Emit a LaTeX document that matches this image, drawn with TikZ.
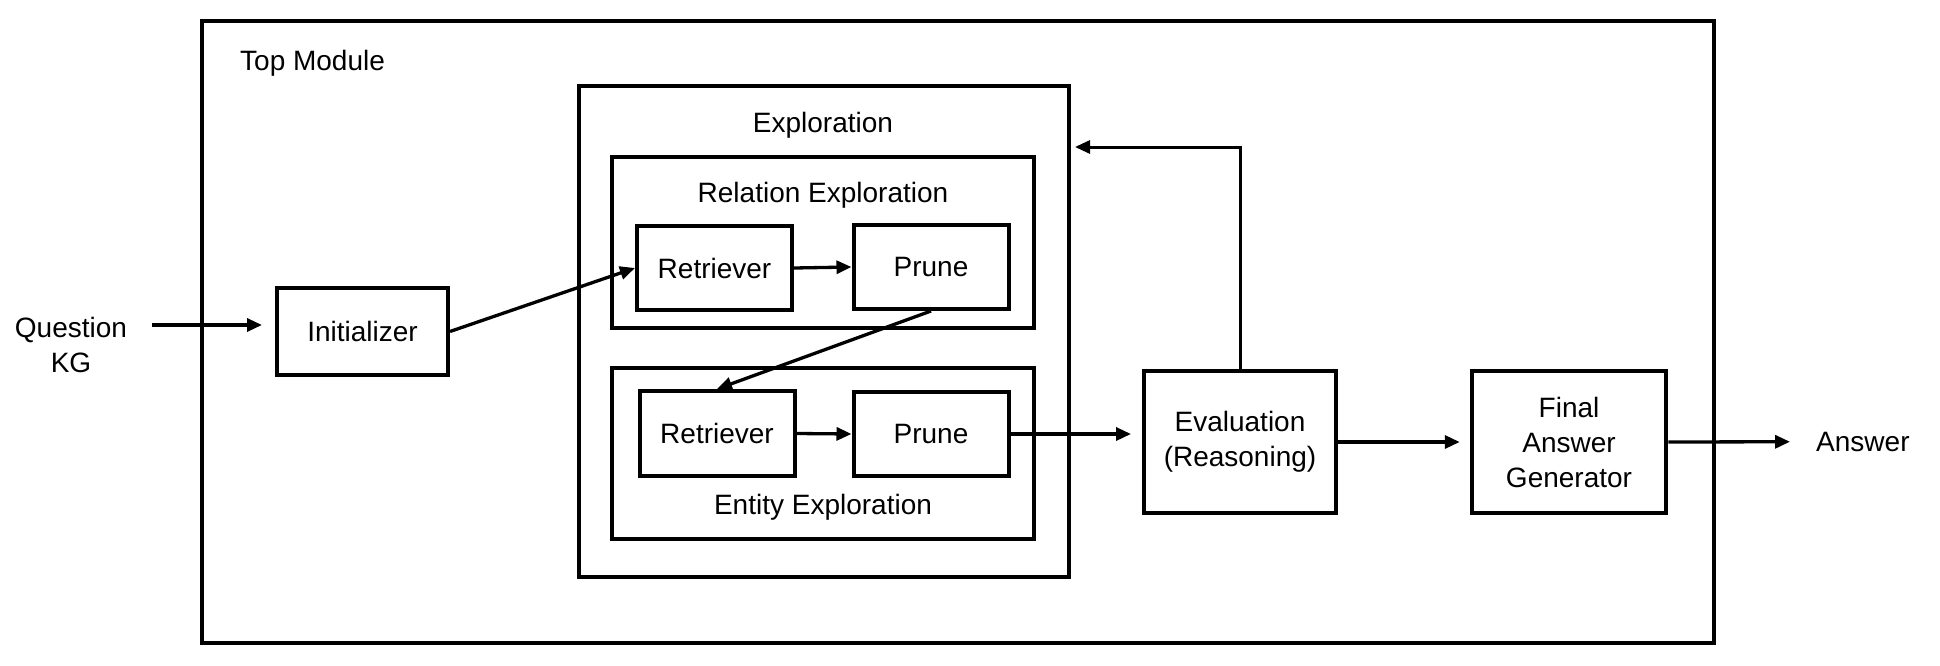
\documentclass[tikz,border=0pt]{standalone}
\usepackage{fontspec}
\setmainfont{Liberation Sans}
\usetikzlibrary{arrows.meta}
\begin{document}
\begin{tikzpicture}[x=1pt,y=-1pt,
  box/.style={draw,line width=4pt,inner sep=0pt,align=center,font=\fontsize{28}{35}\selectfont},
  frame/.style={draw,line width=4pt,inner sep=0pt},
  lbl/.style={inner sep=0pt,align=center,font=\fontsize{28}{35}\selectfont},
  arr/.style={line width=3.3pt,-{Triangle[length=15pt,width=13pt]}}]
\useasboundingbox (0,0) rectangle (1940,666);
% frames
\node[frame,minimum width=1512pt,minimum height=622pt] (top) at (957.5,332) {};
\node[lbl,anchor=west] (toplbl) at (240,63) {Top Module};
\node[frame,minimum width=490pt,minimum height=490pt] (expl) at (824,331.5) {};
\node[lbl] (expllbl) at (823,125) {Exploration};
\node[frame,minimum width=422pt,minimum height=171pt] (rel) at (823,242.5) {};
\node[lbl] (rellbl) at (823,195.5) {Relation Exploration};
\node[frame,minimum width=422pt,minimum height=171pt] (ent) at (823,453) {};
\node[lbl] (entlbl) at (823,507) {Entity Exploration};
% boxes
\node[box,minimum width=171pt,minimum height=87pt] (init) at (362.5,331.5) {Initializer};
\node[box,minimum width=155pt,minimum height=84pt] (ret1) at (714.5,268) {Retriever};
\node[box,minimum width=155pt,minimum height=84pt] (pr1) at (931,267) {Prune};
\node[box,minimum width=155pt,minimum height=85pt] (ret2) at (717,433.5) {Retriever};
\node[box,minimum width=155pt,minimum height=84pt] (pr2) at (931,434) {Prune};
\node[box,minimum width=192pt,minimum height=142pt] (eval) at (1240,442) {Evaluation\\(Reasoning)};
\node[box,minimum width=194.5pt,minimum height=142pt] (fin) at (1569,442) {Final\\Answer\\Generator};
% outside labels
\node[lbl] (qk) at (71,345) {Question\\KG};
\node[lbl,anchor=west] (ans) at (1816,441.7) {Answer};
\coordinate (qa) at (152,325);
\coordinate (fb) at (1075,147);
% connectors
\draw[arr,shorten >=13pt] (qa) -- (init.west |- qa);
\draw[arr] (init.east) -- (ret1.west);
\draw[arr] (ret1.east) -- (pr1.west);
\draw[arr] (pr1.south) -- (ret2.north);
\draw[arr] (ret2.east) -- (pr2.west);
\draw[arr,shorten >=11pt] (pr2.east) -- (pr2.east -| eval.west);
\draw[arr,line width=3pt] (eval.north) |- (fb);
\draw[arr,shorten >=10pt] (eval.east) -- (fin.west);
\draw[arr,shorten >=26pt] (fin.east) -- (ans.west);
\end{tikzpicture}
\end{document}
